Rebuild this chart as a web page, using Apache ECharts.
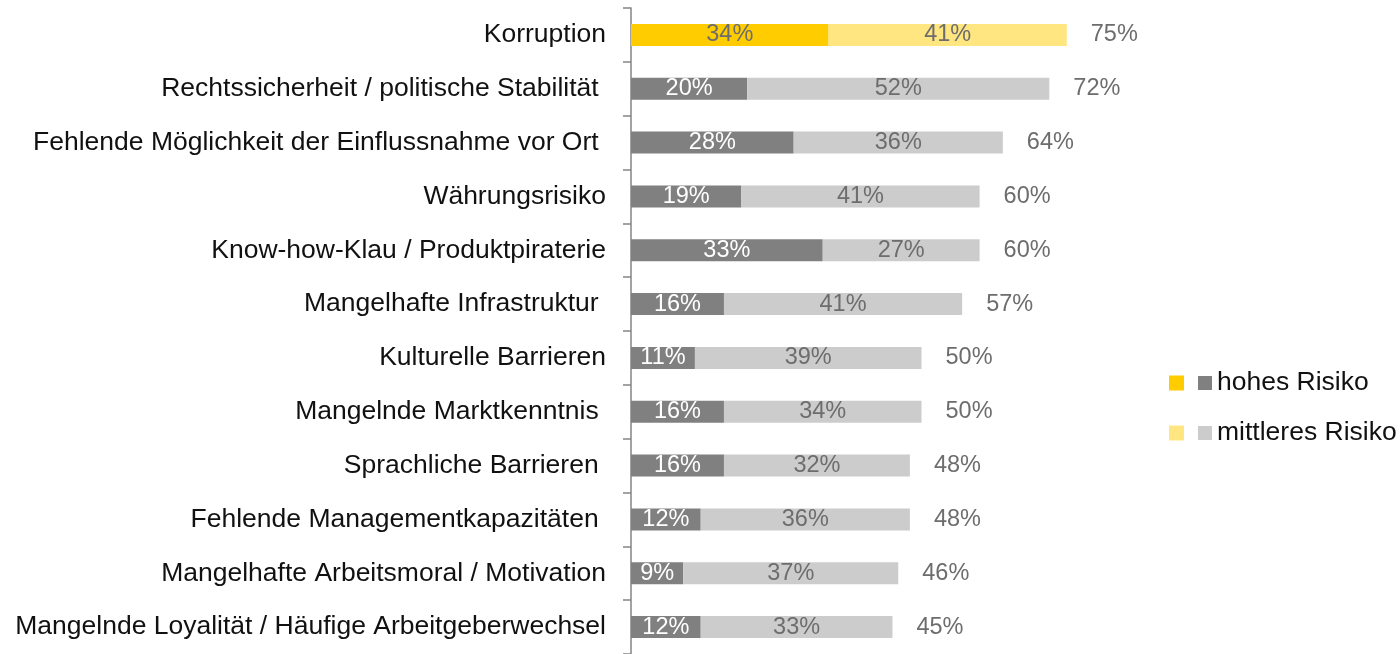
<!DOCTYPE html>
<html>
<head>
<meta charset="utf-8">
<script src="https://cdn.jsdelivr.net/npm/echarts@6/dist/echarts.min.js"></script>
<style>
  html, body { margin: 0; padding: 0; background: #ffffff; }
  #chart { width: 1400px; height: 654px; }
</style>
</head>
<body>
<div id="chart"></div>
<script>
// Kategorien (von oben nach unten)
const categories = [
  'Korruption',
  'Rechtssicherheit / politische Stabilität ',
  'Fehlende Möglichkeit der Einflussnahme vor Ort ',
  'Währungsrisiko',
  'Know-how-Klau / Produktpiraterie',
  'Mangelhafte Infrastruktur ',
  'Kulturelle Barrieren',
  'Mangelnde Marktkenntnis ',
  'Sprachliche Barrieren ',
  'Fehlende Managementkapazitäten ',
  'Mangelhafte Arbeitsmoral / Motivation',
  'Mangelnde Loyalität / Häufige Arbeitgeberwechsel'
];
const hohesRisiko    = [34, 20, 28, 19, 33, 16, 11, 16, 16, 12, 9, 12];
const mittleresRisiko = [41, 52, 36, 41, 27, 41, 39, 34, 32, 36, 37, 33];
const gesamt         = [75, 72, 64, 60, 60, 57, 50, 50, 48, 48, 46, 45];
// Welche Kategorie wird gelb hervorgehoben
const highlightIndex = 0;

const FONT = 'Liberation Sans, Arial, sans-serif';

// aufteilen: hervorgehobene Zeile vs. Rest
const pick = (arr, hl) => arr.map((v, i) => (i === highlightIndex) === hl ? v : '-');

const chart = echarts.init(document.getElementById('chart'));

const valueLabel = (color) => ({
  show: true,
  position: 'inside',
  formatter: '{c}%',
  color: color,
  fontSize: 23.5,
  fontFamily: FONT
});

const option = {
  animation: false,
  backgroundColor: '#ffffff',
  grid: { left: 631, top: 8, width: 581, height: 649 },
  xAxis: {
    type: 'value',
    min: 0,
    max: 100,
    show: false
  },
  yAxis: {
    type: 'category',
    data: categories,
    inverse: true,
    axisLine: { show: true, lineStyle: { color: '#858585', width: 1.5 } },
    axisTick: { show: true, length: 8, lineStyle: { color: '#858585', width: 1.5 } },
    axisLabel: { margin: 25, fontSize: 26.5, color: '#111111', fontFamily: FONT, padding: [3, 0, 0, 0] }
  },
  legend: [
    {
      orient: 'vertical',
      left: 1164,
      top: 363,
      icon: 'rect',
      itemWidth: 15,
      itemHeight: 15,
      itemGap: 20,
      selectedMode: false,
      data: ['Korruption hoch', 'Korruption mittel'],
      formatter: () => ' ',
      textStyle: { fontSize: 26.5, lineHeight: 30, fontFamily: FONT }
    },
    {
      orient: 'vertical',
      left: 1193,
      top: 363,
      icon: 'rect',
      itemWidth: 14,
      itemHeight: 14,
      itemGap: 20,
      selectedMode: false,
      data: ['hohes Risiko', 'mittleres Risiko'],
      textStyle: { fontSize: 26.5, lineHeight: 30, color: '#111111', fontFamily: FONT }
    }
  ],
  series: [
    {
      name: 'Korruption hoch',
      type: 'bar',
      stack: 'risiko',
      barWidth: 22,
      barGap: '-100%',
      itemStyle: { color: '#ffcc00' },
      label: valueLabel('#6d6d6d'),
      data: pick(hohesRisiko, true)
    },
    {
      name: 'hohes Risiko',
      type: 'bar',
      stack: 'risiko',
      barWidth: 22,
      barGap: '-100%',
      itemStyle: { color: '#808080' },
      label: valueLabel('#ffffff'),
      data: pick(hohesRisiko, false)
    },
    {
      name: 'Korruption mittel',
      type: 'bar',
      stack: 'risiko',
      barWidth: 22,
      barGap: '-100%',
      itemStyle: { color: '#ffe680' },
      label: valueLabel('#6d6d6d'),
      data: pick(mittleresRisiko, true)
    },
    {
      name: 'mittleres Risiko',
      type: 'bar',
      stack: 'risiko',
      barWidth: 22,
      barGap: '-100%',
      itemStyle: { color: '#cccccc' },
      label: valueLabel('#6d6d6d'),
      data: pick(mittleresRisiko, false)
    },
    {
      // unsichtbare Summenbalken nur für die Beschriftung rechts
      name: 'Gesamt',
      type: 'bar',
      barWidth: 22,
      barGap: '-100%',
      z: 1,
      silent: true,
      itemStyle: { color: 'rgba(0,0,0,0)' },
      label: {
        show: true,
        position: 'right',
        distance: 24,
        formatter: '{c}%',
        color: '#6d6d6d',
        fontSize: 23.5,
        fontFamily: FONT
      },
      data: gesamt
    }
  ]
};

chart.setOption(option);
</script>
</body>
</html>
